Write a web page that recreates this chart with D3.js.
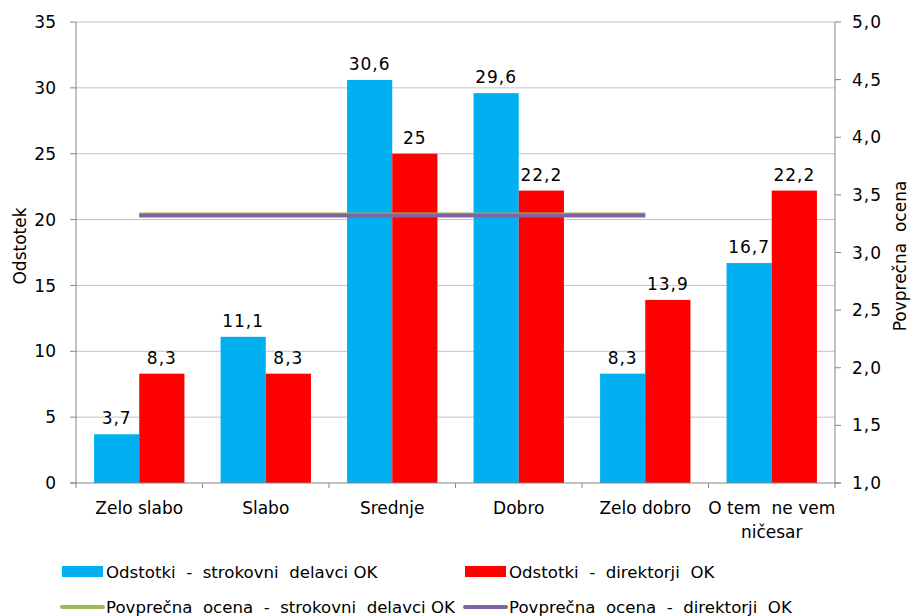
<!DOCTYPE html>
<html>
<head>
<meta charset="utf-8">
<script src="https://cdn.jsdelivr.net/npm/d3@7"></script>
<style>
  body { margin: 0; background: #fff; }
  text { font-family: "DejaVu Sans", sans-serif; fill: #000; font-size: 17px; }
</style>
</head>
<body>
<script>
// data
var categories = ["Zelo slabo", "Slabo", "Srednje", "Dobro", "Zelo dobro", "O tem  ne vem|ničesar"];
var strokovni = [3.7, 11.1, 30.6, 29.6, 8.3, 16.7];
var direktorji = [8.3, 8.3, 25, 22.2, 13.9, 22.2];
var povpStrokovni = [3.33, 3.33, 3.33, 3.33, 3.33];
var povpDirektorji = [3.32, 3.32, 3.32, 3.32, 3.32];
var leftTicks = [0, 5, 10, 15, 20, 25, 30, 35];
var rightTicks = [1, 1.5, 2, 2.5, 3, 3.5, 4, 4.5, 5];
var seriesNames = ["Odstotki  -  strokovni  delavci OK", "Odstotki  -  direktorji  OK",
                   "Povprečna  ocena  -  strokovni  delavci OK", "Povprečna  ocena  -  direktorji  OK"];
var colors = ["#00B0F0", "#FF0000", "#9BBB59", "#8064A2"];

var W = 911, H = 616;
var plotLeft = 76, plotRight = 835, plotTop = 22, plotBottom = 483;

var svg = d3.select("body").append("svg")
    .attr("width", W)
    .attr("height", H);

var x = d3.scaleBand()
    .domain(categories)
    .range([plotLeft, plotRight]);
var x1 = d3.scaleBand()
    .domain([0, 1])
    .range([0, x.bandwidth()])
    .paddingOuter(0.4);
var y = d3.scaleLinear().domain([0, 35]).range([plotBottom, plotTop]);
var y2 = d3.scaleLinear().domain([1, 5]).range([plotBottom, plotTop]);

var fmt = d => String(d).replace(".", ",");

// gridlines
svg.selectAll(".grid")
    .data(leftTicks.slice(1))
    .enter()
    .append("line")
    .attr("x1", plotLeft).attr("x2", plotRight)
    .attr("y1", d => y(d)).attr("y2", d => y(d))
    .attr("stroke", "#c4c4c4");

// bars
var data = categories.map((c, i) => ({cat: c, vals: [strokovni[i], direktorji[i]]}));
var groups = svg.selectAll(".grp")
    .data(data)
    .enter()
    .append("g")
    .attr("transform", d => "translate(" + x(d.cat) + ",0)");

groups.selectAll("rect")
    .data(d => d.vals)
    .enter()
    .append("rect")
    .attr("x", (d, i) => x1(i))
    .attr("width", x1.bandwidth())
    .attr("y", d => y(d))
    .attr("height", d => plotBottom - y(d))
    .attr("fill", (d, i) => colors[i]);

groups.selectAll(".val")
    .data(d => d.vals)
    .enter()
    .append("text")
    .attr("x", (d, i) => x1(i) + x1.bandwidth() / 2)
    .attr("y", d => y(d) - 10)
    .attr("text-anchor", "middle")
    .style("letter-spacing", "1px")
    .text(fmt);

// average lines
var line = d3.line()
    .x((d, i) => x(categories[i]) + x.bandwidth() / 2)
    .y(d => y2(d));
[povpStrokovni, povpDirektorji].forEach(function(s, k) {
    svg.append("path")
        .datum(s)
        .attr("d", line)
        .attr("fill", "none")
        .attr("stroke", colors[2 + k])
        .attr("stroke-width", 4);
});

// axes
var axisColor = "#868686";
svg.append("line").attr("x1", plotLeft).attr("x2", plotLeft).attr("y1", plotTop).attr("y2", plotBottom).attr("stroke", axisColor);
svg.append("line").attr("x1", plotRight).attr("x2", plotRight).attr("y1", plotTop).attr("y2", plotBottom).attr("stroke", axisColor);
svg.append("line").attr("x1", plotLeft - 6).attr("x2", plotRight + 6).attr("y1", plotBottom).attr("y2", plotBottom).attr("stroke", axisColor);

svg.selectAll(".lt")
    .data(leftTicks)
    .enter()
    .append("line")
    .attr("x1", plotLeft - 6).attr("x2", plotLeft)
    .attr("y1", d => y(d)).attr("y2", d => y(d))
    .attr("stroke", axisColor);
svg.selectAll(".ll")
    .data(leftTicks)
    .enter()
    .append("text")
    .attr("x", 56)
    .attr("y", d => y(d))
    .attr("dy", "0.36em")
    .attr("text-anchor", "end")
    .text(d => d);

svg.selectAll(".rt")
    .data(rightTicks)
    .enter()
    .append("line")
    .attr("x1", plotRight).attr("x2", plotRight + 6)
    .attr("y1", d => y2(d)).attr("y2", d => y2(d))
    .attr("stroke", axisColor);
svg.selectAll(".rl")
    .data(rightTicks)
    .enter()
    .append("text")
    .attr("x", 852)
    .attr("y", d => y2(d))
    .attr("dy", "0.36em")
    .style("letter-spacing", "1px")
    .text(d => d3.format(".1f")(d).replace(".", ","));

svg.selectAll(".bt")
    .data(d3.range(categories.length + 1))
    .enter()
    .append("line")
    .attr("x1", i => plotLeft + i * x.step()).attr("x2", i => plotLeft + i * x.step())
    .attr("y1", plotBottom).attr("y2", plotBottom + 5)
    .attr("stroke", axisColor);

// category labels
var cl = svg.selectAll(".cl")
    .data(categories)
    .enter()
    .append("text")
    .attr("x", d => x(d) + x.bandwidth() / 2)
    .attr("y", 514)
    .attr("text-anchor", "middle")
    .style("white-space", "pre");
cl.selectAll("tspan")
    .data(d => d.split("|"))
    .enter()
    .append("tspan")
    .attr("x", function() { return this.parentNode.getAttribute("x"); })
    .attr("dy", (d, i) => i ? 24 : 0)
    .text(d => d);

// axis titles
svg.append("text")
    .attr("transform", "translate(26,246) rotate(-90)")
    .attr("text-anchor", "middle")
    .text("Odstotek");
svg.append("text")
    .attr("transform", "translate(906,256) rotate(-90)")
    .attr("text-anchor", "middle")
    .style("white-space", "pre")
    .text("Povprečna  ocena");

// legend
var legendPos = [[62, 572], [465, 572], [62, 607], [465, 607]];
var legend = svg.selectAll(".lg")
    .data(seriesNames)
    .enter()
    .append("g")
    .attr("transform", (d, i) => "translate(" + legendPos[i][0] + "," + legendPos[i][1] + ")");
legend.filter((d, i) => i < 2)
    .append("rect")
    .attr("x", 0).attr("y", -6)
    .attr("width", 41).attr("height", 11)
    .attr("fill", (d, i) => colors[i]);
legend.filter((d, i) => i >= 2)
    .append("line")
    .attr("x1", 0).attr("x2", 41)
    .attr("stroke", (d, i) => colors[2 + i])
    .attr("stroke-width", 4)
    .attr("stroke-linecap", "round");
legend.append("text")
    .attr("x", 44)
    .attr("y", 6)
    .style("font-size", "16.6px")
    .style("white-space", "pre")
    .text(d => d);
</script>
</body>
</html>
